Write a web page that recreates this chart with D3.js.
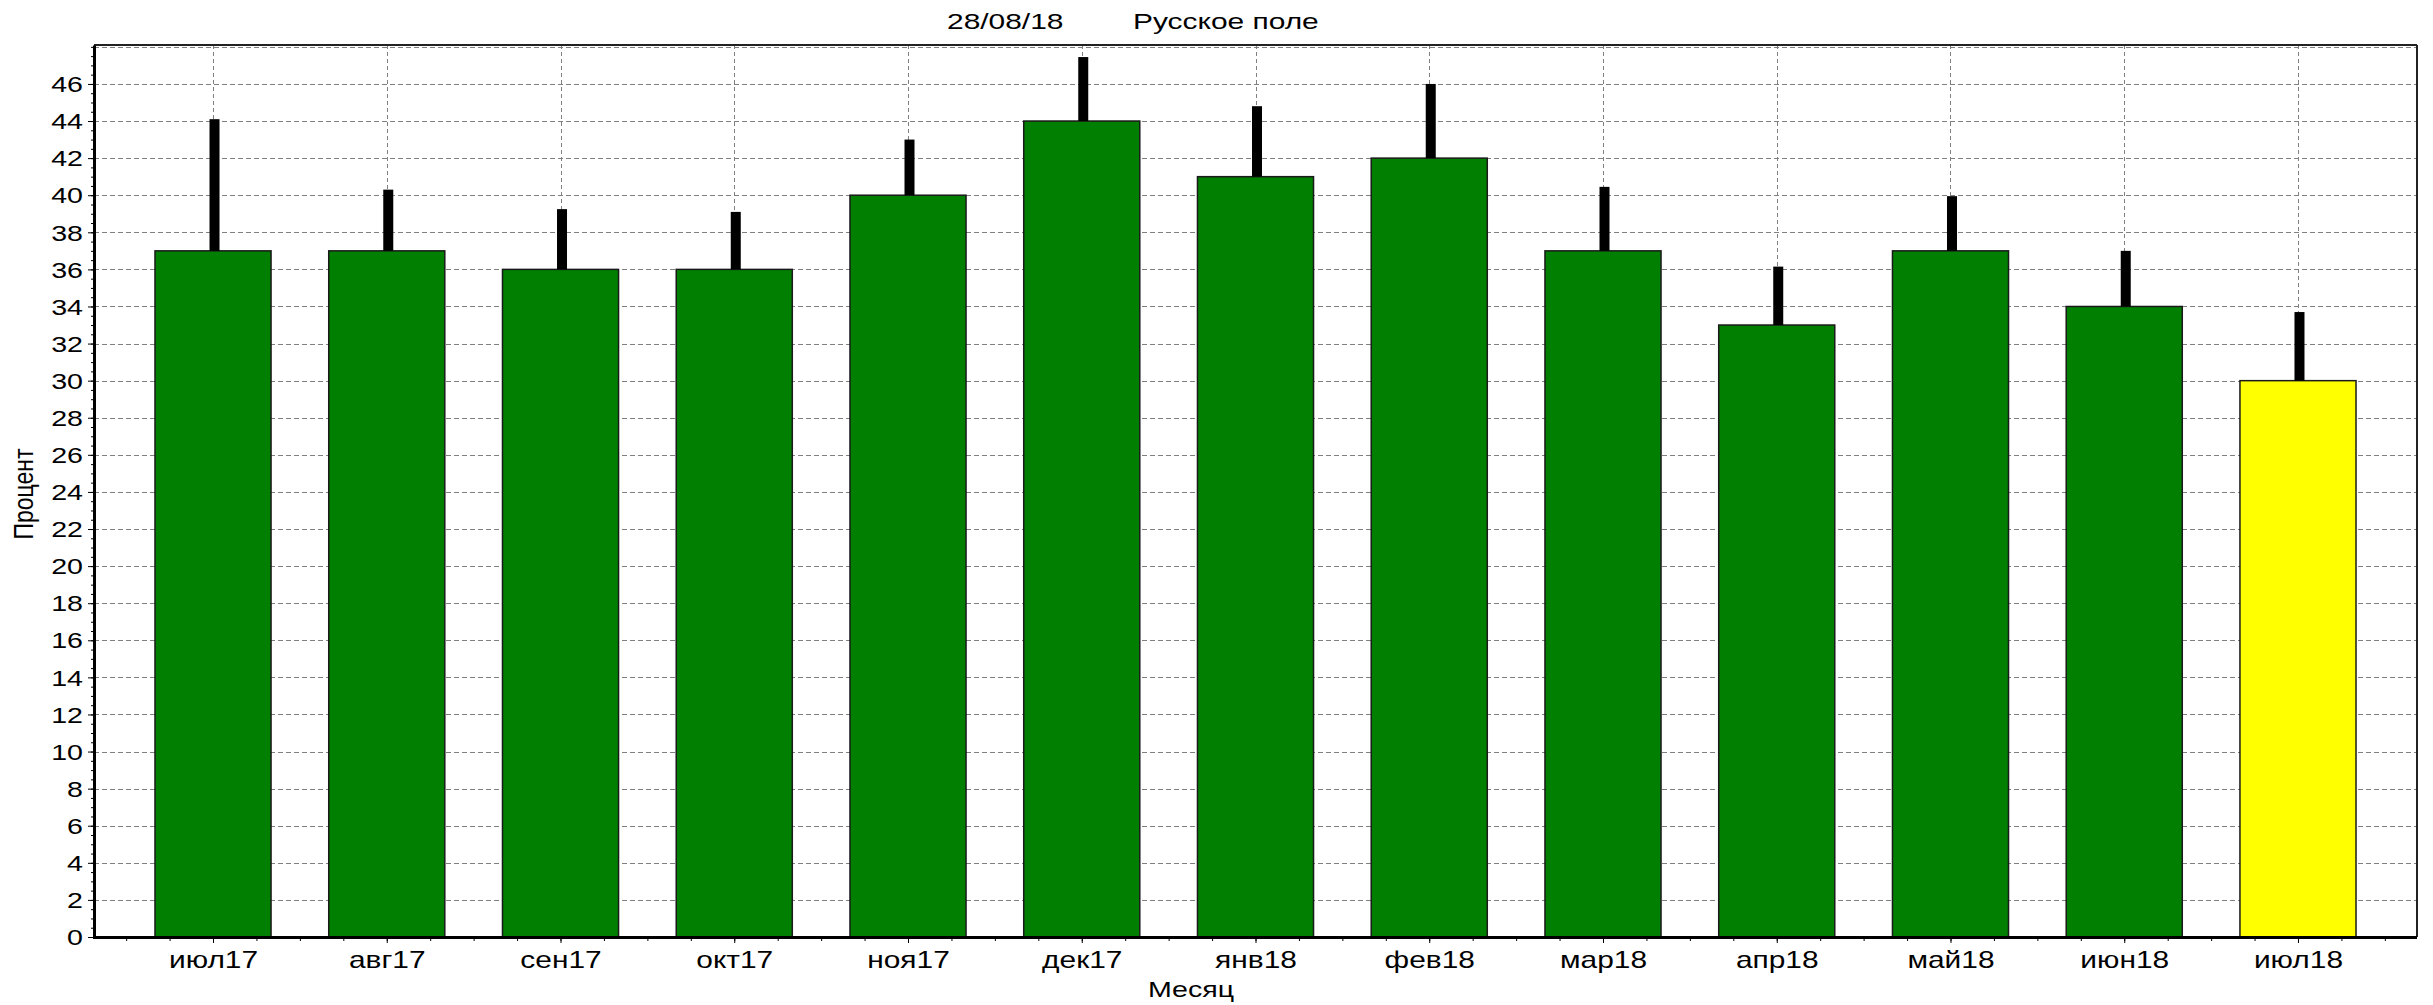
<!DOCTYPE html>
<html>
<head>
<meta charset="utf-8">
<script src="https://cdn.jsdelivr.net/npm/d3@7"></script>
<style>
  body { margin: 0; background: #fff; }
  svg { display: block; font-family: "Liberation Sans", Arial, sans-serif; }
</style>
</head>
<body>
<div id="chart"></div>
<script>
// данные графика
const months = ["июл17", "авг17", "сен17", "окт17", "ноя17", "дек17", "янв18",
                "фев18", "мар18", "апр18", "май18", "июн18", "июл18"];
const percent = [37, 37, 36, 36, 40, 44, 41, 42, 37, 33, 37, 34, 30];
const upper = [44.1, 40.3, 39.25, 39.1, 43.0, 47.45, 44.8, 46.0, 40.45, 36.15, 39.95, 37.0, 33.7];
const yLabels = d3.range(0, 47, 2);
const yGrid = d3.range(0, 49, 2);
const titleDate = "28/08/18";
const titleName = "Русское поле";
const xTitle = "Месяц";
const yTitle = "Процент";

const w = 2433, h = 1005;
const mLeft = 94, mRight = 2417, mTop = 45, mBottom = 937;
const stretch = 1.3;

const svg = d3.select("#chart").append("svg")
    .attr("width", w)
    .attr("height", h);

const x = d3.scalePoint()
    .domain(months)
    .range([mLeft, mRight])
    .padding(0.685);
const step = x.step();
const xi = d3.scaleLinear()
    .domain([0, months.length - 1])
    .range([x(months[0]), x(months[months.length - 1])]);

const y = d3.scaleLinear()
    .domain([0, 48.1])
    .range([mBottom, mTop]);

// сетка
svg.append("g")
    .selectAll("line")
    .data(yGrid)
    .join("line")
    .attr("x1", mLeft).attr("x2", mRight)
    .attr("y1", d => Math.round(y(d)) + 0.5)
    .attr("y2", d => Math.round(y(d)) + 0.5)
    .attr("stroke", "#808080")
    .attr("stroke-dasharray", "5,3");

svg.append("g")
    .selectAll("line")
    .data(months)
    .join("line")
    .attr("x1", d => Math.round(x(d)) + 0.5)
    .attr("x2", d => Math.round(x(d)) + 0.5)
    .attr("y1", mTop).attr("y2", mBottom)
    .attr("stroke", "#808080")
    .attr("stroke-dasharray", "4,3");

// столбцы
const bw = step * 0.668;
svg.append("g")
    .selectAll("rect")
    .data(months)
    .join("rect")
    .attr("x", d => x(d) - bw / 2)
    .attr("y", (d, i) => y(percent[i]))
    .attr("width", bw)
    .attr("height", (d, i) => mBottom - y(percent[i]))
    .attr("fill", (d, i) => i === months.length - 1 ? "#ffff00" : "#007f00")
    .attr("stroke", "#1a1a1a")
    .attr("stroke-width", 1.5);

// погрешность
svg.append("g")
    .selectAll("rect")
    .data(months)
    .join("rect")
    .attr("x", d => x(d) - 3.5)
    .attr("y", (d, i) => y(upper[i]))
    .attr("width", 10)
    .attr("height", (d, i) => y(percent[i]) - y(upper[i]))
    .attr("fill", "#000");

// рамка
svg.append("line")
    .attr("x1", mLeft).attr("x2", mRight).attr("y1", mTop).attr("y2", mTop)
    .attr("stroke", "#222").attr("stroke-width", 2);
svg.append("line")
    .attr("x1", mRight).attr("x2", mRight).attr("y1", mTop).attr("y2", mBottom)
    .attr("stroke", "#222").attr("stroke-width", 2);

// ось Y
svg.append("g")
    .attr("transform", `translate(${mLeft},0)`)
    .call(d3.axisLeft(y).tickValues(d3.range(0, 48.1, 0.5)).tickSize(3).tickFormat(""))
    .call(g => g.select(".domain").remove());

const yAxis = svg.append("g")
    .attr("transform", `translate(${mLeft},0)`)
    .call(d3.axisLeft(y).tickValues(yLabels).tickSize(6).tickSizeOuter(0));
yAxis.select(".domain").attr("stroke-width", 3);
yAxis.selectAll("text")
    .attr("x", 0).attr("dy", "0.35em")
    .attr("transform", `translate(-11,0) scale(${stretch},1)`)
    .attr("font-size", 22)
    .attr("font-family", "Liberation Sans, Arial, sans-serif")
    .attr("fill", "#000");

// ось X
svg.append("g")
    .attr("transform", `translate(0,${mBottom})`)
    .call(d3.axisBottom(xi).tickValues(d3.range(-0.5, 12.51, 0.25)).tickSize(4).tickFormat(""))
    .call(g => g.select(".domain").remove());

const xAxis = svg.append("g")
    .attr("transform", `translate(0,${mBottom})`)
    .call(d3.axisBottom(x).tickSize(6).tickSizeOuter(0));
xAxis.select(".domain").attr("d", `M${mLeft - 1},0.5H${mRight}`).attr("stroke-width", 3);
xAxis.selectAll("text")
    .attr("y", 0).attr("dy", 0)
    .attr("transform", `translate(0,31) scale(${stretch},1)`)
    .attr("font-size", 23)
    .attr("font-family", "Liberation Sans, Arial, sans-serif")
    .attr("fill", "#000");

// подписи
const label = (tx, ty, text, anchor, sx) => svg.append("text")
    .attr("transform", `translate(${tx},${ty}) scale(${sx},1)`)
    .attr("text-anchor", anchor)
    .attr("font-size", 22)
    .attr("fill", "#000")
    .text(text);

label(947, 29, titleDate, "start", 1.36);
label(1133, 29, titleName, "start", 1.36);
label(1191, 997, xTitle, "middle", stretch);

svg.append("text")
    .attr("transform", "translate(33,494) scale(1.2,1) rotate(-90)")
    .attr("text-anchor", "middle")
    .attr("font-size", 23)
    .attr("fill", "#000")
    .text(yTitle);
</script>
</body>
</html>
